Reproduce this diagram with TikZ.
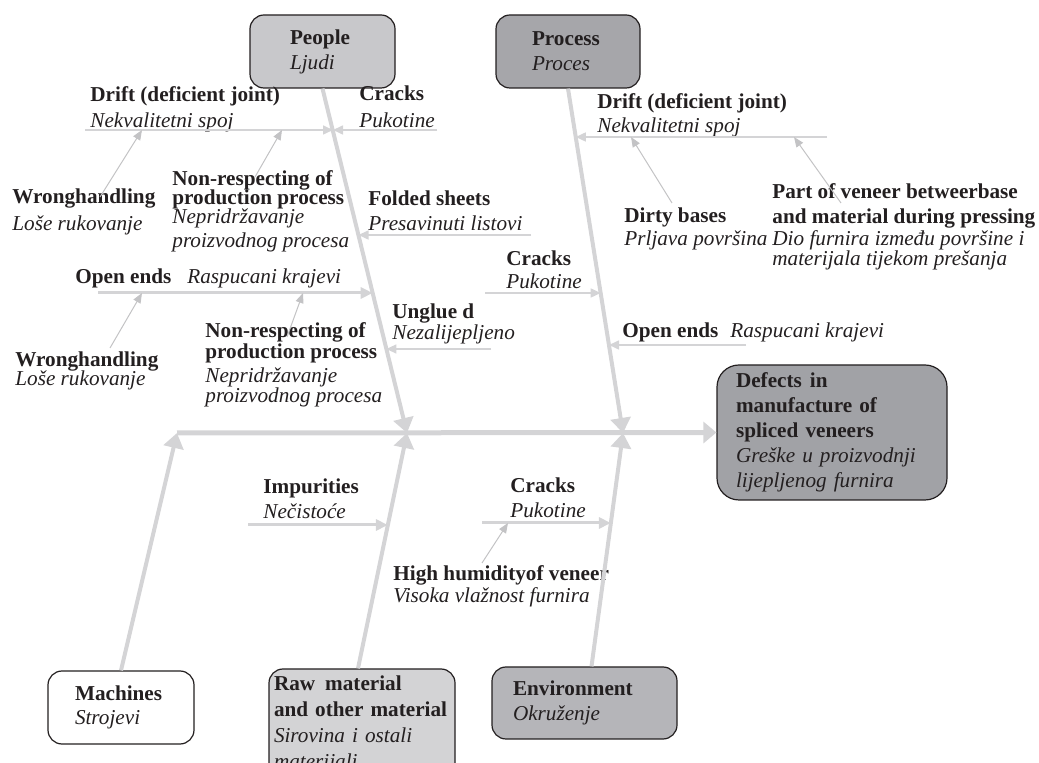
\documentclass[tikz,border=0pt]{standalone}
\usepackage{fontspec}
\setmainfont{Liberation Serif}
\usetikzlibrary{arrows.meta}

\definecolor{bonegray}{RGB}{212,212,214}
\definecolor{twiggray}{RGB}{195,195,197}
\definecolor{inkgray}{RGB}{35,31,32}
\definecolor{peoplefill}{RGB}{200,200,203}
\definecolor{processfill}{RGB}{166,166,170}
\definecolor{defectfill}{RGB}{161,162,166}
\definecolor{rawfill}{RGB}{211,211,213}
\definecolor{envfill}{RGB}{181,181,185}

\begin{document}
\begin{tikzpicture}[x=0.5pt,y=-0.5pt,
    every node/.style={font=\fontsize{10.6}{12}\selectfont,text=inkgray},
    lbl/.style={anchor=north west,yshift=8.4pt,align=left,inner sep=0pt},
    catbox/.style={draw=inkgray,line width=0.6pt,rounded corners=7pt,align=left,inner ysep=0pt},
    spine/.style={draw=bonegray,line width=2.5pt,-{Triangle[length=6.5pt,width=10.5pt]}},
    bone/.style={draw=bonegray,line width=2pt,-{Triangle[length=7.5pt,width=10pt]}},
    cause/.style={draw=bonegray,line width=1.5pt,-{Triangle[length=6pt,width=5.5pt]}},
    twig/.style={draw=bonegray,line width=0.8pt,-{Triangle[length=5pt,width=4.5pt]}},
    subcause/.style={draw=twiggray,line width=0.5pt,-{Triangle[length=5pt,width=4pt]}}]
    \useasboundingbox (0,0) rectangle (1039,763);
    \clip (0,0) rectangle (1039,763);

    % category boxes
    \node (people) at (322.5,51.5) [catbox,fill=peoplefill,minimum width=72.5pt,minimum height=36.5pt,inner xsep=20pt,text width=32.5pt] {\textbf{People}\\[0.5pt]\textit{Ljudi}};
    \node (process) at (568,51.5) [catbox,fill=processfill,minimum width=72pt,minimum height=36.5pt,inner xsep=18pt,text width=36pt] {\textbf{Process}\\[0.5pt]\textit{Proces}};
    \node (machines) at (121,707.5) [catbox,fill=white,minimum width=73pt,minimum height=36.5pt,inner xsep=13.5pt,text width=46pt] {\textbf{Machines}\\\textit{Strojevi}};
    \node (raw) at (362,724) [catbox,fill=rawfill,minimum width=93pt,minimum height=55pt,inner xsep=2.5pt,text width=88pt] {\textbf{Raw\hspace{5pt}material}\\[1pt]\textbf{and other material}\\[1pt]\textit{Sirovina i ostali}\\[1pt]\textit{materijali}};
    \node (env) at (584.5,703) [catbox,fill=envfill,minimum width=92.5pt,minimum height=36pt,inner xsep=10.5pt,text width=71.5pt] {\textbf{Environment}\\[0.5pt]\textit{Okruženje}};
    \node (defects) at (832,432.5) [catbox,fill=defectfill,rounded corners=11pt,minimum width=115pt,minimum height=67.5pt,inner xsep=9.5pt,text width=96pt] {\textbf{Defects\hspace{4pt}in}\\[0.5pt]\textbf{manufacture of}\\[0.5pt]\textbf{spliced veneers}\\[0.5pt]\textit{Greške u proizvodnji}\\[0.5pt]\textit{lijepljenog furnira}};

    % cause labels, placed at the baseline of their first line
    \node (driftP) at (90,101) [lbl] {\strut\textbf{Drift (deficient joint)}\\[1pt]\textit{Nekvalitetni spoj}};
    \node (cracksP) at (359,100) [lbl] {\strut\textbf{Cracks}\\[1.5pt]\textit{Pukotine}};
    \node (wrongA) at (12,203) [lbl] {\strut\textbf{Wronghandling}\\[1.5pt]\textit{Loše rukovanje}};
    \node (nonrespA) at (172,185) [lbl] {\strut\textbf{Non-respecting of}\\[-2.5pt]\textbf{production process}\\[-2.5pt]\textit{Nepridržavanje}\\\textit{proizvodnog procesa}};
    \node (folded) at (368,205) [lbl] {\strut\textbf{Folded sheets}\\[0.5pt]\textit{Presavinuti listovi}};
    \node (openP) at (75,283) [lbl] {\strut\textbf{Open ends}\hspace{8pt}\textit{Raspucani krajevi}};
    \node (wrongB) at (15,366) [lbl] {\strut\textbf{Wronghandling}\\[-2.5pt]\textit{Loše rukovanje}};
    \node (nonrespB) at (205,337) [lbl] {\strut\textbf{Non-respecting of}\\[-1.5pt]\textbf{production process}\\\textit{Nepridržavanje}\\[-2pt]\textit{proizvodnog procesa}};
    \node (unglued) at (392,318) [lbl] {\strut\textbf{Unglue d}\\[-1.5pt]\textit{Nezalijepljeno}};
    \node (driftR) at (597,108) [lbl] {\strut\textbf{Drift (deficient joint)}\\\textit{Nekvalitetni spoj}};
    \node (dirty) at (624,222) [lbl] {\strut\textbf{Dirty bases}\\[-0.5pt]\textit{Prljava površina}};
    \node (veneer) at (772,198) [lbl] {\strut\textbf{Part of veneer betweerbase}\\[0.5pt]\textbf{and material during pressing}\\[-1pt]\textit{Dio furnira između površine i}\\[-2pt]\textit{materijala tijekom prešanja}};
    \node (cracksR) at (506,265) [lbl] {\strut\textbf{Cracks}\\[-0.5pt]\textit{Pukotine}};
    \node (openR) at (622,337) [lbl] {\strut\textbf{Open ends}\hspace{6pt}\textit{Raspucani krajevi}};
    \node (impur) at (263,493) [lbl] {\strut\textbf{Impurities}\\[0.5pt]\textit{Nečistoće}};
    \node (cracksE) at (510,492) [lbl] {\strut\textbf{Cracks}\\[0.5pt]\textit{Pukotine}};
    \node (humid) at (393,580) [lbl] {\strut\textbf{High humidityof veneer}\\[-1pt]\textit{Visoka vlažnost furnira}};

    % joints on the spine and on the bones
    \coordinate (jM) at (177,433);
    \coordinate (jP) at (407,433);
    \coordinate (jR) at (623,433);
    \coordinate (rawTop) at ([xshift=-2pt]raw.north);
    \coordinate (envTop) at ([xshift=3.5pt]env.north);
    \coordinate (dPa) at (85,130);   \coordinate (dPb) at (333,130);
    \coordinate (cPa) at (437,130);  \coordinate (cPb) at (333,130);
    \coordinate (fPa) at (531,235);  \coordinate (fPb) at (358.5,235);
    \coordinate (oPa) at (98,293);   \coordinate (oPb) at (372.7,293);
    \coordinate (uPa) at (491,349);  \coordinate (uPb) at (386.4,349);
    \coordinate (dRa) at (827,137);  \coordinate (dRb) at (575.8,137);
    \coordinate (cRa) at (485,293);  \coordinate (cRb) at (600.7,293);
    \coordinate (oRa) at (746,345);  \coordinate (oRb) at (609,345);
    \coordinate (iMa) at (248,525);  \coordinate (iMb) at (387.9,525);
    \coordinate (cEa) at (482,523);  \coordinate (cEb) at (610.9,523);

    % spine and main bones
    \draw[spine] (jM) -- (defects.west);
    \draw[bone] (people.south) -- (jP);
    \draw[bone] (rawTop) -- (jP);
    \draw[bone] (process.south) -- (jR);
    \draw[bone] (envTop) -- (jR);
    \draw[bone] (machines.north) -- (jM);

    % causes
    \draw[twig] (dPa) -- (dPb);
    \draw[twig] (cPa) -- (cPb);
    \draw[twig] (fPa) -- (fPb);
    \draw[cause] (oPa) -- (oPb);
    \draw[twig] (uPa) -- (uPb);
    \draw[twig] (dRa) -- (dRb);
    \draw[twig] (cRa) -- (cRb);
    \draw[twig] (oRa) -- (oRb);
    \draw[cause] (iMa) -- (iMb);
    \draw[cause] (cEa) -- (cEb);

    % sub-causes
    \draw[subcause] (100,197) -- (142,130);
    \draw[subcause] (255,177) -- (282,130);
    \draw[subcause] (110,348) -- (142,293);
    \draw[subcause] (287,337) -- (303,293);
    \draw[subcause] (672,203) -- (631,137);
    \draw[subcause] (841,203) -- (794,137);
    \draw[subcause] (482,563) -- (508,523);
\end{tikzpicture}
\end{document}
